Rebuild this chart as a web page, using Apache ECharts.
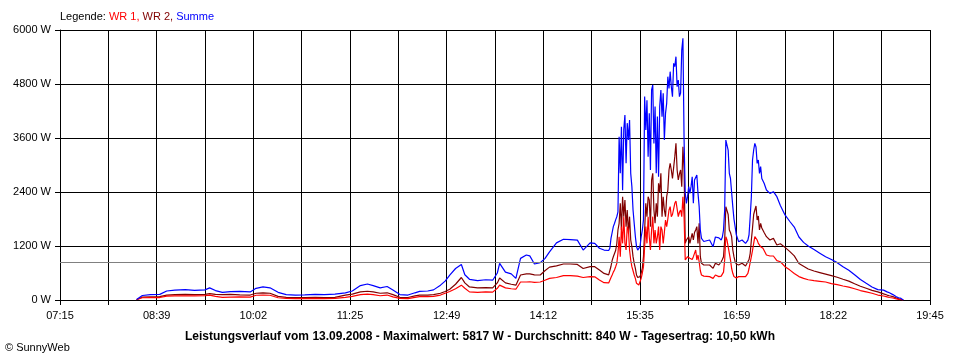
<!DOCTYPE html>
<html><head><meta charset="utf-8">
<script src="https://cdn.jsdelivr.net/npm/echarts@6/dist/echarts.min.js"></script>
<style>html,body{margin:0;padding:0;background:#fff}#c{width:960px;height:360px}</style>
</head><body><div id="c"></div>
<script>
const tickLabels = ["07:15","08:39","10:02","11:25","12:49","14:12","15:35","16:59","18:22","19:45"];
const yTicks = [0,1200,2400,3600,4800,6000];
const average = 840;
const times = ["08:21","08:26","08:33","08:41","08:47","08:54","09:03","09:11","09:20","09:24","09:29","09:35","09:42","09:50","09:59",
"10:04","10:10","10:16","10:23","10:30","10:38","10:46","10:55","11:03","11:12","11:21","11:27","11:34","11:40","11:45","11:51","11:57",
"12:02","12:08","12:15","12:21","12:25","12:32","12:37","12:43","12:47","12:51","12:56","13:01","13:04","13:08","13:15","13:22","13:28",
"13:32","13:34","13:39","13:44","13:48","13:52","13:57","14:00","14:04","14:09","14:13","14:17","14:23","14:29","14:35","14:41","14:46",
"14:52","14:56","15:00","15:04",
"15:08","15:09","15:10","15:11","15:12","15:13","15:14","15:15","15:16","15:17","15:18","15:19","15:20","15:21","15:22","15:23","15:24",
"15:25","15:26","15:27","15:28","15:29","15:30","15:31","15:32","15:33","15:34","15:35","15:36","15:37","15:38","15:39","15:40","15:41",
"15:42","15:43","15:44","15:45","15:46","15:47","15:48","15:49","15:50","15:51","15:52","15:53","15:54","15:55","15:56","15:57","15:58",
"15:59","16:00","16:01","16:02","16:03","16:04","16:05","16:06","16:07","16:08","16:09","16:10","16:11","16:12","16:13","16:14","16:15",
"16:16","16:17","16:18","16:19","16:20","16:21","16:22","16:23","16:24","16:25","16:26","16:27","16:28","16:30","16:35","16:38","16:40",
"16:43","16:45","16:46","16:47","16:48","16:49","16:50","16:51","16:52","16:53","16:54","16:55","16:56","16:57","16:58","17:00","17:03",
"17:06","17:08","17:09","17:10","17:11","17:12","17:13","17:14","17:15","17:16","17:17","17:18","17:19","17:20","17:21","17:22","17:24",
"17:27","17:30","17:33","17:36","17:40","17:44","17:48","17:52","17:56","18:00","18:05","18:10","18:15","18:20","18:25","18:30","18:35",
"18:40","18:45","18:50","18:55","19:00","19:05","19:08","19:10","19:13","19:16","19:18","19:20","19:22"];
const summe = [10,100,120,125,200,220,230,215,225,270,210,170,185,190,180,
260,290,270,170,120,110,115,125,120,130,160,200,320,355,320,270,300,
220,120,110,160,190,200,225,330,420,555,700,790,560,460,430,450,440,
600,815,620,580,480,925,1000,980,800,830,920,1070,1270,1350,1340,1330,1110,
1270,1260,1150,1110,
1100,1150,1370,1500,1630,1700,1780,1850,1960,3630,2815,3850,2440,3780,4110,3040,3930,
3555,4000,2815,2520,2000,1700,1410,1185,1110,1110,1185,1400,1550,1780,4520,3780,4440,
3185,4150,2890,4670,4780,3480,4300,2815,4075,2740,4300,4666,4074,4592,3555,4148,4370,
4963,4700,5074,4740,4518,5259,5185,5407,4740,4889,4518,4600,5555,5817,3555,2370,2148,
2296,2518,2370,2518,2740,2148,2667,2700,2778,2370,2074,1555,1370,1300,1333,1185,1400,
1380,1333,1400,1555,2000,3555,3520,3330,2815,2700,2667,2074,1800,1630,1450,1296,1333,
1259,1330,1450,1850,2296,3111,3333,3481,3400,3037,3111,2815,2963,2700,2667,2593,2444,
2370,2407,2296,2100,1890,1750,1620,1400,1280,1200,1120,1040,960,900,830,740,660,
560,455,370,290,230,220,180,160,120,70,50,35,0];
const wr2 = [5,65,70,75,110,120,125,120,125,140,125,120,125,115,110,
150,160,150,80,60,55,55,60,55,60,110,130,180,195,180,150,160,
120,60,55,90,110,110,120,150,190,240,350,500,380,290,270,275,270,
380,490,380,350,330,555,580,580,560,555,650,730,760,800,800,790,700,
740,740,667,590,
560,590,750,880,960,1000,1100,1250,1556,1704,2148,1556,2296,1852,2222,1630,2000,
1481,1852,1333,1185,963,815,704,556,500,481,519,600,704,963,1556,2148,1852,
2296,2222,1630,2667,2815,2000,1704,2148,1852,2593,2400,2815,1852,2296,2000,1852,2296,
2444,2889,3037,2889,2700,2667,3185,3481,2889,2667,2800,2889,2518,3407,2900,1259,1333,
1370,1407,1259,1370,1481,1333,1500,1556,1630,1259,1704,963,815,778,778,704,815,
778,850,900,960,1330,2074,2111,1900,1556,1500,1407,1111,963,852,800,778,815,
756,852,900,1037,1333,1600,1900,2000,2089,1778,1867,1556,1704,1600,1556,1500,1407,
1333,1370,1222,1250,1170,1080,980,810,750,690,645,610,575,540,505,460,420,
360,305,260,215,180,135,110,95,74,45,25,12,0];
const wr1 = [5,50,55,55,85,90,95,90,95,110,80,60,65,70,65,
105,110,105,50,35,30,30,35,30,35,60,80,120,130,120,95,110,
70,35,30,60,75,75,80,110,150,190,250,330,260,180,170,180,175,
260,330,270,250,240,400,400,405,390,400,440,480,500,540,540,530,500,
518,515,444,385,
380,407,500,556,620,667,740,815,1037,1407,963,1630,1259,1852,1259,1111,1630,
1556,1111,889,741,650,556,481,370,340,333,370,481,600,741,1185,1630,1259,
1852,1400,1111,1556,1852,1259,1556,1259,1400,1630,1111,1630,1556,1259,1500,1778,1630,
1800,2000,2074,1852,1900,1926,2148,2200,2222,1852,1950,2000,1852,2296,1852,889,889,
963,963,930,889,900,963,1037,1111,889,1000,850,650,556,530,519,481,555,
520,530,560,620,890,1407,1333,1185,1037,890,700,593,520,481,490,519,519,
519,593,700,741,963,1100,1259,1407,1370,1333,1259,1300,1185,1200,1148,1100,1000,
978,978,874,850,740,670,590,520,480,450,430,415,400,365,340,311,285,
250,210,180,150,110,89,70,55,44,25,15,8,0];

function sec(t){const p=t.split(':').map(Number);return p[0]*3600+p[1]*60;}
const t0 = sec(tickLabels[0]);
const span = sec(tickLabels[tickLabels.length-1]) - t0;
const step = span/((tickLabels.length-1)*2);
const pts = arr => times.map((t,i)=>[sec(t)-t0, arr[i]]);
const FONT = '"Liberation Sans", Arial, sans-serif';

const chart = echarts.init(document.getElementById('c'), null, {renderer:'canvas'});
chart.setOption({
  animation:false,
  backgroundColor:'#ffffff',
  textStyle:{fontFamily:FONT},
  title:{
    left:60, top:11, padding:0,
    text:'{k|Legende: }{a|WR 1, }{b|WR 2, }{c|Summe}',
    textStyle:{fontSize:11, fontWeight:'normal', rich:{
      k:{color:'#000', fontSize:11, fontFamily:FONT},
      a:{color:'#ff0000', fontSize:11, fontFamily:FONT},
      b:{color:'#800000', fontSize:11, fontFamily:FONT},
      c:{color:'#0000ff', fontSize:11, fontFamily:FONT}}}
  },
  graphic:[
    {type:'text', left:'center', top:331, style:{text:'Leistungsverlauf vom 13.09.2008 - Maximalwert: 5817 W - Durchschnitt: 840 W - Tagesertrag: 10,50 kWh', font:'bold 12px '+FONT, fill:'#000'}},
    {type:'text', left:5, top:342, style:{text:'\u00A9 SunnyWeb', font:'11px '+FONT, fill:'#000'}}
  ],
  grid:{left:60, right:30, top:30, bottom:60, containLabel:false},
  xAxis:{
    type:'value', min:0, max:span, interval:step,
    axisLine:{show:true, lineStyle:{color:'#000', width:1}},
    axisTick:{show:true, length:5, lineStyle:{color:'#000'}},
    axisLabel:{margin:10, color:'#000', fontSize:11, fontFamily:FONT, showMinLabel:true, showMaxLabel:true,
      formatter:v=>{const i=Math.round(v/step);return i%2===0?tickLabels[i/2]:'';}},
    splitLine:{show:true, lineStyle:{color:'#000', width:1}}
  },
  yAxis:{
    type:'value', min:yTicks[0], max:yTicks[yTicks.length-1], interval:yTicks[1]-yTicks[0],
    axisLine:{show:true, lineStyle:{color:'#000', width:1}},
    axisTick:{show:true, length:5, lineStyle:{color:'#000'}},
    axisLabel:{margin:9, color:'#000', fontSize:11, fontFamily:FONT, formatter:v=>String(v)+' W'},
    splitLine:{show:true, lineStyle:{color:'#000', width:1}}
  },
  series:[
    {name:'WR 2', type:'line', data:pts(wr2), showSymbol:false, symbol:'none', lineStyle:{color:'#800000', width:1.2}, itemStyle:{color:'#800000'},
     markLine:{silent:true, symbol:'none', label:{show:false}, lineStyle:{color:'#808080', type:'solid', width:1}, data:[{yAxis:average}]}},
    {name:'WR 1', type:'line', data:pts(wr1), showSymbol:false, symbol:'none', lineStyle:{color:'#ff0000', width:1.2}, itemStyle:{color:'#ff0000'}},
    {name:'Summe', type:'line', data:pts(summe), showSymbol:false, symbol:'none', lineStyle:{color:'#0000ff', width:1.2}, itemStyle:{color:'#0000ff'}}
  ]
});
</script></body></html>
